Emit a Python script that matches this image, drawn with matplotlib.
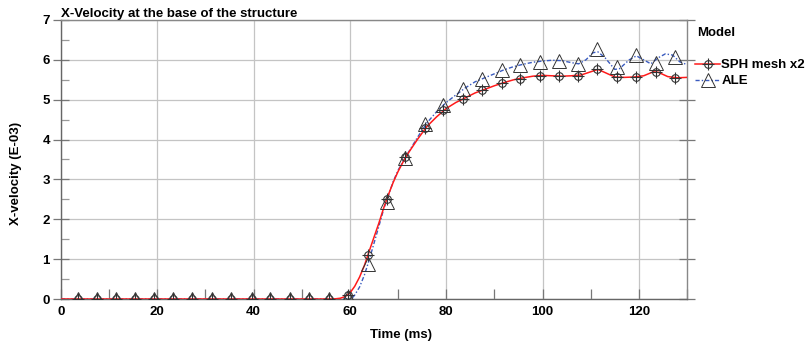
import matplotlib
matplotlib.use("Agg")
import matplotlib.pyplot as plt
from matplotlib.legend_handler import HandlerTuple
from matplotlib.ticker import MultipleLocator

plt.rcParams['font.family'] = ['Liberation Sans', 'DejaVu Sans']
plt.rcParams['font.weight'] = 'bold'

# --- data ---
sph_t = [0, 56, 57, 58, 59, 60, 61, 62, 63, 64, 65, 66, 67, 68, 69, 70, 71, 72, 74, 76,
         78, 80, 82, 84, 86, 88, 90, 92, 94, 96, 98, 100, 102, 104, 106, 108, 110, 111.5,
         113, 115, 117, 119, 121, 123, 124, 126, 128, 130]
sph_v = [0, 0, 0.005, 0.02, 0.06, 0.15, 0.32, 0.55, 0.84, 1.2, 1.55, 1.9, 2.28, 2.62, 2.93,
         3.2, 3.43, 3.64, 4.0, 4.33, 4.57, 4.78, 4.93, 5.05, 5.17, 5.26, 5.35, 5.43, 5.5, 5.55,
         5.59, 5.61, 5.6, 5.59, 5.6, 5.62, 5.7, 5.76, 5.68, 5.57, 5.56, 5.57, 5.6, 5.7, 5.69,
         5.58, 5.55, 5.56]

ale_t = [0, 60, 60.5, 61, 62, 63, 64, 65, 66, 67, 68, 69, 70, 71, 72, 74, 76, 78, 80, 82, 84,
         86, 88, 90, 92, 94, 96, 98, 100, 102, 104, 106, 107.5, 109, 110.5, 111.5, 113, 115,
         116, 118, 119.5, 121, 122.5, 124, 125.5, 127, 128.5, 130]
ale_v = [0, 0, 0.03, 0.1, 0.3, 0.6, 0.98, 1.4, 1.82, 2.25, 2.6, 2.95, 3.23, 3.45, 3.65, 4.05,
         4.42, 4.7, 4.93, 5.12, 5.3, 5.45, 5.55, 5.65, 5.75, 5.83, 5.89, 5.94, 5.97, 5.99, 5.98,
         5.93, 5.9, 6.0, 6.18, 6.2, 6.05, 5.76, 5.78, 6.0, 6.1, 6.0, 5.9, 6.05, 6.15, 6.12, 5.95,
         5.88]

mark_t = [3.6, 7.5, 11.4, 15.4, 19.3, 23.3, 27.3, 31.4, 35.4, 39.6, 43.5, 47.5, 51.5, 55.6,
          59.6, 63.7, 67.6, 71.5, 75.5, 79.4, 83.5, 87.4, 91.5, 95.4, 99.4, 103.4, 107.4,
          111.4, 115.4, 119.4, 123.5, 127.5]
sph_m = [0, 0, 0, 0, 0, 0, 0, 0, 0, 0, 0, 0, 0, 0,
         0.1, 1.10, 2.50, 3.57, 4.28, 4.74, 5.03, 5.24, 5.41, 5.53, 5.60, 5.59, 5.60,
         5.76, 5.57, 5.57, 5.70, 5.55]
ale_m = [0, 0, 0, 0, 0, 0, 0, 0, 0, 0, 0, 0, 0, 0,
         0.04, 0.89, 2.44, 3.55, 4.39, 4.86, 5.28, 5.53, 5.74, 5.88, 5.95, 5.96, 5.89,
         6.28, 5.82, 6.12, 5.93, 6.07]

x_ticks = [0, 20, 40, 60, 80, 100, 120]
y_ticks = [0, 1, 2, 3, 4, 5, 6, 7]

FS = 9.5
fig = plt.figure(figsize=(8.07, 3.47), dpi=100)
ax = fig.add_axes([0.0756, 0.1383, 0.7757, 0.8041])

red = '#ff1a1a'
blue = '#3a5bbf'
mk = '#333333'

ale_line, = ax.plot(ale_t, ale_v, color=blue, lw=1.0, linestyle=(0, (3, 1.5, 1, 1.5)), zorder=3)
sph_line, = ax.plot(sph_t, sph_v, color=red, lw=1.1, zorder=4)
tri, = ax.plot(mark_t, ale_m, '^', mfc='none', mec=mk, ms=9.5, mew=0.7, zorder=5)
circ, = ax.plot(mark_t, sph_m, 'o', mfc='none', mec=mk, ms=5.5, mew=0.8, zorder=6)
plus, = ax.plot(mark_t, sph_m, '+', color=mk, ms=9, mew=0.8, zorder=6)

ax.set_xlim(0, 130)
ax.set_ylim(0, 7)
ax.set_xticks(x_ticks)
ax.set_yticks(y_ticks)
ax.xaxis.set_minor_locator(MultipleLocator(10))
ax.yaxis.set_minor_locator(MultipleLocator(0.5))
ax.grid(True, which='major', color='#c4c4c4', lw=0.9)
ax.set_axisbelow(True)

ax.tick_params(axis='x', which='both', direction='in', length=7, width=0.9, color='#777777',
               labelsize=FS, pad=5)
ax.tick_params(axis='y', which='major', direction='inout', length=12, width=0.9,
               color='#777777', labelsize=FS, pad=2, right=True)
ax.tick_params(axis='y', which='minor', direction='in', length=6, width=0.9, color='#999999',
               right=False)
for lab in ax.get_xticklabels() + ax.get_yticklabels():
    lab.set_fontweight('bold')

for s in ['left', 'bottom']:
    ax.spines[s].set_color('#666666')
    ax.spines[s].set_linewidth(1.0)
for s in ['top', 'right']:
    ax.spines[s].set_color('#888888')
    ax.spines[s].set_linewidth(1.0)

ax.set_title('X-Velocity at the base of the structure', loc='left', fontsize=FS,
             fontweight='bold', pad=1)
fig.text(401 / 807, 1 - 335 / 347, 'Time (ms)', fontsize=FS, fontweight='bold',
         ha='center', va='center')
fig.text(16 / 807, 0.5, 'X-velocity (E-03)', fontsize=FS, fontweight='bold',
         ha='center', va='center', rotation=90)

fig.text(697 / 807, 1 - 33 / 347, 'Model', fontsize=FS, fontweight='bold', va='center',
         ha='left')
leg = fig.legend([(sph_line, circ, plus), (ale_line, tri)], ['SPH mesh x2', 'ALE'],
                 handler_map={tuple: HandlerTuple(ndivide=1)},
                 loc='upper left', bbox_to_anchor=(695 / 807, 1 - 59 / 347),
                 frameon=False, prop={'weight': 'bold', 'size': FS},
                 handlelength=1.9, handletextpad=0.1, labelspacing=0.3,
                 borderaxespad=0, borderpad=0)

fig.savefig('out.png', dpi=100)
